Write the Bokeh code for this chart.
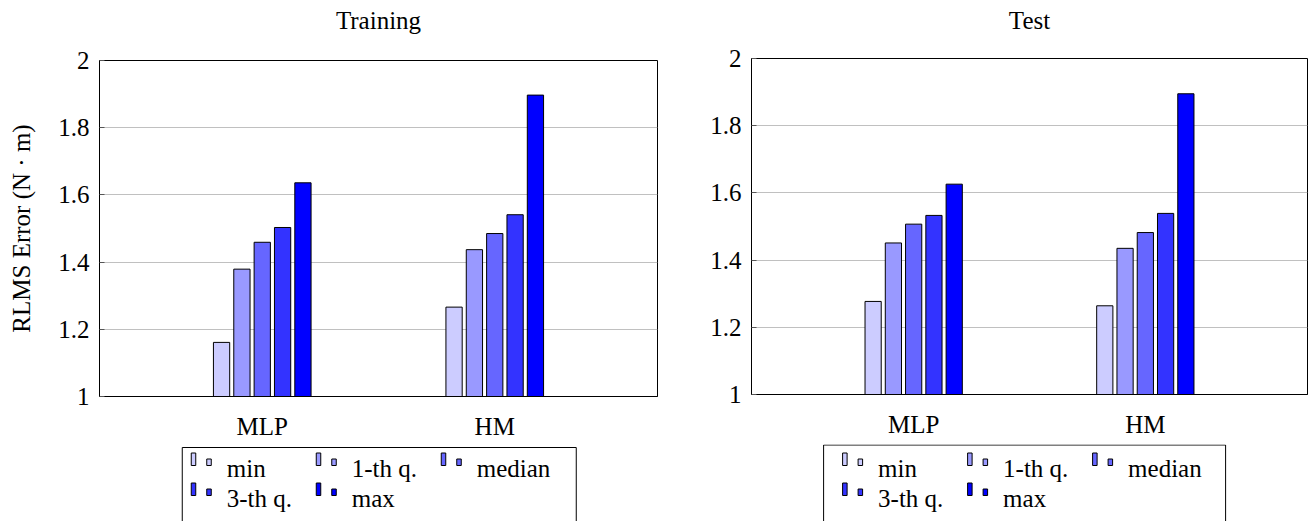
from bokeh.plotting import figure
from bokeh.models import Range1d, FixedTicker
from bokeh.layouts import row, column
from bokeh.embed import file_html
from bokeh.resources import INLINE
from bokeh.core.properties import value
import numpy as np

# ---------------- data ----------------
CATEGORIES = ["MLP", "HM"]
SERIES = ["min", "1-th q.", "median", "3-th q.", "max"]
COLORS = ["#ccccff", "#9999ff", "#6666ff", "#3333ff", "#0000ff"]
PANEL_TITLES = ["Training", "Test"]

train_min = [1.161, 1.266]
train_q1 = [1.379, 1.437]
train_median = [1.459, 1.485]
train_q3 = [1.503, 1.541]
train_max = [1.636, 1.897]

test_min = [1.277, 1.264]
test_q1 = [1.451, 1.435]
test_median = [1.507, 1.482]
test_q3 = [1.533, 1.539]
test_max = [1.626, 1.895]

Y_TICKS = [1, 1.2, 1.4, 1.6, 1.8, 2]
Y_TICK_LABELS = ["1", "1.2", "1.4", "1.6", "1.8", "2"]
Y_LABEL = "RLMS Error (N \u00b7 m)"

FONT = "Liberation Serif"
FS = "25px"

STEP = 0.0875
BAR_W = 0.070


def blank_fig(frame_w, b_left, b_right, height):
    # data coordinates equal pixel positions inside this figure (y downward)
    f = figure(title=None, frame_width=frame_w, frame_height=height,
               x_range=Range1d(b_left, b_left + frame_w), y_range=Range1d(height, 0),
               output_backend="svg", toolbar_location=None,
               x_axis_location=None, y_axis_location=None,
               min_border_left=b_left, min_border_right=b_right,
               min_border_top=0, min_border_bottom=0)
    f.xgrid.visible = False
    f.ygrid.visible = False
    f.outline_line_color = None
    f.background_fill_color = "white"
    f.border_fill_color = "white"
    return f


def title_fig(text, frame_w, b_left, b_right, height):
    f = blank_fig(frame_w, b_left, b_right, height)
    f.text(x=[b_left + frame_w / 2], y=[19.5], text=[text],
           text_font=value(FONT), text_font_size=value(FS),
           text_baseline="middle", text_align="center", text_color="black")
    return f


def panel(series_values, frame_w, frame_h, b_left, b_right, b_top, b_bottom, ylabel=None):
    p = figure(title=None, frame_width=frame_w, frame_height=frame_h,
               x_range=Range1d(-0.7, 1.7), y_range=Range1d(1, 2),
               output_backend="svg", toolbar_location=None,
               min_border_left=b_left, min_border_right=b_right,
               min_border_top=b_top, min_border_bottom=b_bottom)

    xs = np.arange(len(CATEGORIES))
    n = len(series_values)
    for i, (vals, col) in enumerate(zip(series_values, COLORS)):
        off = (i - (n - 1) / 2) * STEP
        p.vbar(x=xs + off, top=vals, bottom=1, width=BAR_W,
               fill_color=col, line_color="black", line_width=1)

    p.outline_line_color = "black"
    p.outline_line_width = 1

    p.xaxis.ticker = FixedTicker(ticks=list(range(len(CATEGORIES))))
    p.xaxis.major_label_overrides = {i: c for i, c in enumerate(CATEGORIES)}
    p.xaxis.major_tick_in = 0
    p.xaxis.major_tick_out = 0
    p.xaxis.minor_tick_line_color = None
    p.xaxis.axis_line_color = "black"
    p.xaxis.major_label_standoff = 16
    p.xaxis.major_label_text_font = FONT
    p.xaxis.major_label_text_font_size = FS
    p.xaxis.major_label_text_color = "black"

    p.yaxis.ticker = FixedTicker(ticks=Y_TICKS)
    p.yaxis.major_label_overrides = dict(zip(Y_TICKS, Y_TICK_LABELS))
    p.yaxis.major_tick_in = 5
    p.yaxis.major_tick_out = 0
    p.yaxis.major_tick_line_color = "#555555"
    p.yaxis.minor_tick_line_color = None
    p.yaxis.axis_line_color = "black"
    p.yaxis.major_label_standoff = 10
    p.yaxis.major_label_text_font = FONT
    p.yaxis.major_label_text_font_size = FS
    p.yaxis.major_label_text_color = "black"
    if ylabel:
        p.yaxis.axis_label = ylabel
        p.yaxis.axis_label_text_font = FONT
        p.yaxis.axis_label_text_font_size = FS
        p.yaxis.axis_label_text_font_style = "normal"
        p.yaxis.axis_label_text_color = "black"
        p.yaxis.axis_label_standoff = 20

    p.xgrid.visible = False
    p.ygrid.ticker = FixedTicker(ticks=Y_TICKS)
    p.ygrid.grid_line_color = "#c0c0c0"
    p.ygrid.grid_line_width = 1
    p.background_fill_color = "white"
    p.border_fill_color = "white"
    return p


def legend_fig(frame_w, b_left, b_right, height, content_left, box_left, box_right, box_top):
    lf = blank_fig(frame_w, b_left, b_right, height)
    lf.quad(left=[box_left], right=[box_right], top=[box_top], bottom=[height + 20],
            fill_color=None, line_color="black", line_width=1)
    ncol = 3
    col_pitch = 125
    row_pitch = 30
    icon_bottom = 21
    text_mid = 23.5
    for i, (name, colr) in enumerate(zip(SERIES, COLORS)):
        c = i % ncol
        r = i // ncol
        x0 = content_left + c * col_pitch
        yb = icon_bottom + r * row_pitch
        lf.quad(left=[x0], right=[x0 + 4.5], top=[yb - 12.5], bottom=[yb],
                fill_color=colr, line_color="black", line_width=1)
        lf.quad(left=[x0 + 15.5], right=[x0 + 20], top=[yb - 6.5], bottom=[yb],
                fill_color=colr, line_color="black", line_width=1)
        lf.text(x=[x0 + 35.5], y=[text_mid + r * row_pitch], text=[name],
                text_font=value(FONT), text_font_size=value(FS),
                text_baseline="middle", text_align="left", text_color="black")
    return lf


TITLE_H = 36

t1 = title_fig(PANEL_TITLES[0], 558, 99, 34, TITLE_H)
p1 = panel([train_min, train_q1, train_median, train_q3, train_max],
           558, 336, 99, 34, 60 - TITLE_H, 48, ylabel=Y_LABEL)
l1 = legend_fig(558, 99, 34, 77, 190.75, 181.75, 575.75, 3)

t2 = title_fig(PANEL_TITLES[1], 556, 60, 3, TITLE_H)
p2 = panel([test_min, test_q1, test_median, test_q3, test_max],
           556, 336, 60, 3, 58 - TITLE_H, 50)
l2 = legend_fig(556, 60, 3, 77, 151.1, 132.1, 534.1, 0.5)

layout = row(column(t1, p1, l1, spacing=0), column(t2, p2, l2, spacing=0), spacing=0)

open("out.html", "w").write(file_html(layout, INLINE))
